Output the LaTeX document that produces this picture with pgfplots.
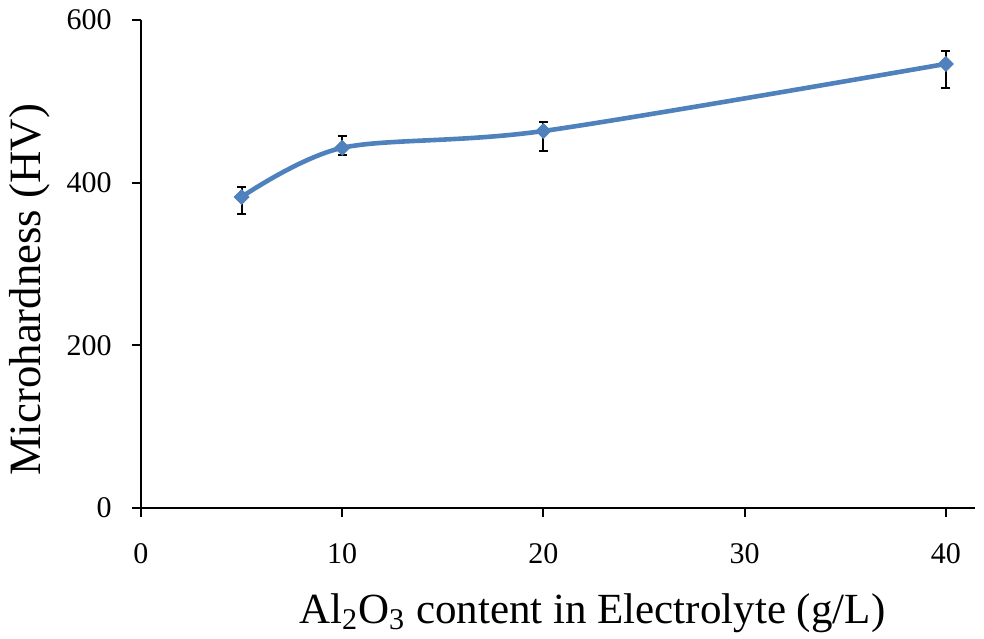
\documentclass[border=0pt]{standalone}
\usepackage{pgfplots}
\pgfplotsset{compat=1.18}
\usepackage{fontspec}
\setmainfont{Liberation Serif}
\definecolor{xlblue}{HTML}{4F81BD}

\begin{document}
\begin{tikzpicture}
\begin{axis}[
  scale only axis,
  width=417pt, height=244pt,
  xmin=0, xmax=41.45,
  ymin=0, ymax=600,
  axis lines=left,
  axis line style={-, line width=1pt, black},
  xtick={0,10,20,30,40},
  ytick={0,200,400,600},
  tick align=outside,
  major tick length=4.5pt,
  tick style={line width=1pt, black},
  /pgf/number format/assume math mode=true,
  yticklabel style={anchor=east, inner sep=0pt, xshift=-10pt, font=\fontsize{15}{18}\selectfont},
  xticklabel style={anchor=north, inner sep=0pt, yshift=-13pt, font=\fontsize{15}{18}\selectfont},
  xlabel={Al\textsubscript{2}O\textsubscript{3} content in Electrolyte (g/L)},
  ylabel={Microhardness (HV)},
  every axis x label/.style={at={(axis description cs:0.541,-0.2152)}, anchor=center, font=\fontsize{21.5}{26}\selectfont},
  every axis y label/.style={at={(axis description cs:-0.1331,0.447)}, anchor=center, rotate=90, font=\fontsize{22.4}{27}\selectfont},
  clip=false,
]
\addplot[
  color=xlblue, line width=2.3pt, smooth,
  mark=square*, mark size=2.6pt, mark options={rotate=45, solid, fill=xlblue, draw=xlblue, line width=0.5pt},
  error bars/.cd, y dir=both, y explicit,
  error bar style={black, line width=1pt},
  error mark options={rotate=90, black, line width=1pt, mark size=2.25pt},
] coordinates {
  (5,382.4)  += (0,12.6) -= (0,21.0)
  (10,442.8) += (0,15.0) -= (0,9.0)
  (20,463.5) += (0,11.5) -= (0,24.5)
  (40,546.0) += (0,16.0) -= (0,30.0)
};
\end{axis}
\pgfresetboundingbox
\path (current axis.south west) ++(-70.5pt,-65.5pt) rectangle ([xshift=4.5pt,yshift=10pt]current axis.north east);
\end{tikzpicture}
\end{document}
